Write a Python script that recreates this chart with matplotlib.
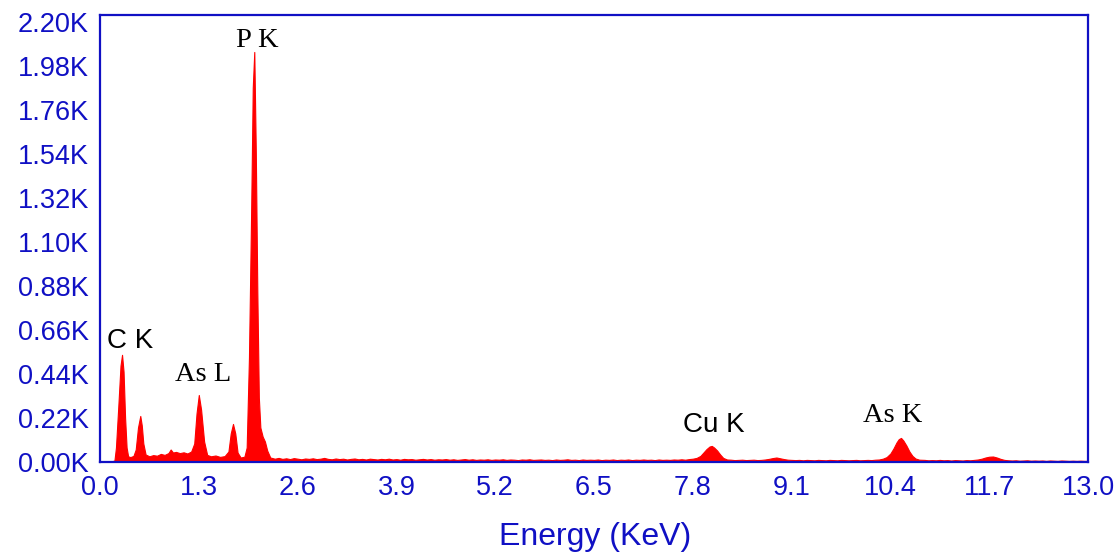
import matplotlib
matplotlib.use("Agg")
import matplotlib.pyplot as plt
import numpy as np

# ---- spectrum data (energy in keV, counts) ----
e_low = [0.00, 0.15, 0.19, 0.21, 0.24, 0.27, 0.29, 0.31, 0.33, 0.35, 0.37, 0.40,
         0.44, 0.47, 0.50, 0.53, 0.55, 0.57, 0.60, 0.65, 0.70, 0.75, 0.80, 0.85,
         0.90, 0.93, 0.96, 1.00, 1.05, 1.10, 1.15, 1.20, 1.24, 1.27, 1.30, 1.33,
         1.37, 1.41, 1.46, 1.52, 1.58, 1.64, 1.69, 1.72, 1.75, 1.78, 1.81, 1.85,
         1.90, 1.93, 1.96, 1.99, 2.01, 2.03, 2.05, 2.07, 2.09, 2.11, 2.14, 2.17,
         2.20, 2.24]
c_low = [0, 0, 5, 70, 270, 480, 534, 450, 220, 70, 26, 22,
         28, 60, 170, 228, 180, 90, 35, 26, 32, 29, 38, 33,
         42, 60, 45, 48, 42, 46, 40, 50, 90, 240, 333, 260,
         100, 33, 26, 30, 23, 27, 50, 140, 188, 140, 45, 20,
         24, 70, 520, 1280, 1870, 2050, 1550, 850, 320, 170, 125, 100,
         55, 20]

e_mid = [2.30, 2.35, 2.40, 2.45, 2.50, 2.55, 2.60, 2.65, 2.70, 2.75, 2.80, 2.85,
         2.90, 2.95, 3.00, 3.05, 3.10, 3.15, 3.20, 3.25, 3.30, 3.35, 3.40, 3.45,
         3.50, 3.55, 3.60, 3.65, 3.70, 3.75, 3.80, 3.85, 3.90, 3.95, 4.00, 4.05,
         4.10, 4.15, 4.20, 4.25, 4.30, 4.35, 4.40, 4.45, 4.50, 4.55, 4.60, 4.65,
         4.70, 4.75, 4.80, 4.85, 4.90, 4.95, 5.00, 5.05, 5.10, 5.15, 5.20, 5.25,
         5.30, 5.35, 5.40, 5.45, 5.50, 5.55, 5.60, 5.65, 5.70, 5.75, 5.80, 5.85,
         5.90, 5.95, 6.00, 6.05, 6.10, 6.15, 6.20, 6.25, 6.30, 6.35, 6.40, 6.45,
         6.50, 6.55, 6.60, 6.65, 6.70, 6.75, 6.80, 6.85, 6.90, 6.95, 7.00, 7.05,
         7.10, 7.15, 7.20, 7.25, 7.30, 7.35, 7.40, 7.45, 7.50, 7.55, 7.60, 7.65,
         7.70, 7.75, 7.80, 7.85]
c_mid = [14, 18, 13, 16, 12, 17, 14, 11, 15, 13, 16, 12,
         14, 18, 13, 11, 15, 12, 14, 10, 13, 15, 11, 13,
         10, 14, 12, 10, 13, 11, 14, 10, 12, 9, 13, 11,
         12, 9, 11, 13, 10, 12, 9, 11, 10, 12, 9, 11,
         8, 10, 12, 9, 11, 8, 10, 9, 11, 8, 10, 9,
         11, 8, 10, 9, 7, 10, 9, 11, 8, 9, 10, 8,
         9, 7, 10, 8, 9, 11, 8, 9, 7, 10, 8, 9,
         8, 10, 7, 9, 8, 10, 7, 9, 8, 10, 7, 9,
         8, 10, 8, 9, 7, 10, 8, 9, 8, 10, 9, 11,
         9, 12, 14, 18]

e_cu = [7.90, 7.94, 7.98, 8.02, 8.05, 8.08, 8.12, 8.16, 8.20, 8.25,
        8.30, 8.35, 8.40, 8.45, 8.50, 8.55, 8.60, 8.65, 8.70, 8.75,
        8.80, 8.85, 8.90, 8.95, 9.00, 9.05, 9.10, 9.15, 9.20, 9.25,
        9.30, 9.35, 9.40, 9.45, 9.50, 9.55, 9.60, 9.65, 9.70, 9.75,
        9.80, 9.85, 9.90, 9.95, 10.00, 10.05, 10.10, 10.15, 10.20, 10.25,
        10.30, 10.35]
c_cu = [28, 45, 62, 75, 78, 70, 55, 35, 18, 10,
        9, 7, 8, 9, 7, 8, 9, 7, 8, 10,
        13, 17, 20, 16, 12, 9, 8, 7, 8, 6,
        8, 7, 6, 8, 7, 6, 8, 7, 6, 8,
        7, 6, 7, 8, 6, 7, 8, 7, 9, 10,
        14, 22]

e_as = [10.40, 10.44, 10.48, 10.51, 10.54, 10.57, 10.61, 10.65, 10.69, 10.73,
        10.78, 10.85, 10.90, 10.95, 11.00, 11.05, 11.10, 11.15, 11.20, 11.25,
        11.30, 11.35, 11.40, 11.45, 11.50, 11.55, 11.60, 11.65, 11.70, 11.75,
        11.80, 11.85, 11.90, 11.95, 12.00, 12.05, 12.10, 12.15, 12.20, 12.25,
        12.30, 12.35, 12.40, 12.45, 12.50, 12.55, 12.60, 12.65, 12.70, 12.75,
        12.80, 12.85, 12.90, 12.95, 13.00]
c_as = [40, 65, 95, 112, 118, 105, 80, 50, 28, 15,
        9, 8, 6, 7, 6, 8, 6, 7, 5, 7,
        6, 5, 7, 6, 8, 10, 14, 20, 24, 25,
        20, 13, 8, 6, 5, 6, 4, 5, 6, 4,
        5, 4, 5, 3, 5, 4, 3, 5, 4, 3,
        4, 3, 4, 3, 3]

# ---- labels ----
x_ticks = [0.0, 1.3, 2.6, 3.9, 5.2, 6.5, 7.8, 9.1, 10.4, 11.7, 13.0]
y_ticks = [0, 220, 440, 660, 880, 1100, 1320, 1540, 1760, 1980, 2200]
peak_labels = ["C K", "As L", "P K", "Cu K", "As K"]
peak_label_x = [0.395, 1.355, 2.07, 8.07, 10.43]
peak_label_y = [569, 405, 2073, 149, 200]
peak_label_serif = [False, True, True, False, True]

energy = np.array(e_low + e_mid + e_cu + e_as)
counts = np.array(c_low + c_mid + c_cu + c_as)

BLUE = "#1010C4"
RED = "#FF0000"

fig = plt.figure(figsize=(11.18, 5.53), dpi=100)
W, H = 1118, 553
ax = fig.add_axes([100 / W, 1 - 461.5 / H, 988 / W, 446.5 / H])

ax.fill_between(energy, 0, counts, color=RED, linewidth=0.8, edgecolor=RED, zorder=1)

ax.set_xlim(0, 13.0)
ax.set_ylim(0, 2235)
ax.set_xticks(x_ticks)
ax.set_xticklabels([f"{v:.1f}" for v in x_ticks])
ax.set_yticks(y_ticks)
ax.set_yticklabels([f"{v/1000:.2f}K" for v in y_ticks])

sans = ["Liberation Sans", "DejaVu Sans"]
serif = ["Liberation Serif", "DejaVu Serif"]

ax.tick_params(axis="both", length=0, colors=BLUE, labelsize=19.5)
ax.tick_params(axis="x", pad=10)
ax.tick_params(axis="y", pad=8)
for lbl in ax.get_xticklabels() + ax.get_yticklabels():
    lbl.set_family(sans)

for sp in ax.spines.values():
    sp.set_color(BLUE)
    sp.set_linewidth(1.6)
    sp.set_zorder(3)

xl = ax.set_xlabel("Energy (KeV)", fontsize=23, color=BLUE, family=sans)
xl.set_va("baseline")
ax.xaxis.set_label_coords(0.501, -0.186)

for txt, x, y, is_serif in zip(peak_labels, peak_label_x, peak_label_y, peak_label_serif):
    ax.text(x, y, txt, ha="center", va="baseline",
            fontsize=20.5 if is_serif else 20,
            family=serif if is_serif else sans, color="black", zorder=4)

fig.savefig("out.png", dpi=100)
